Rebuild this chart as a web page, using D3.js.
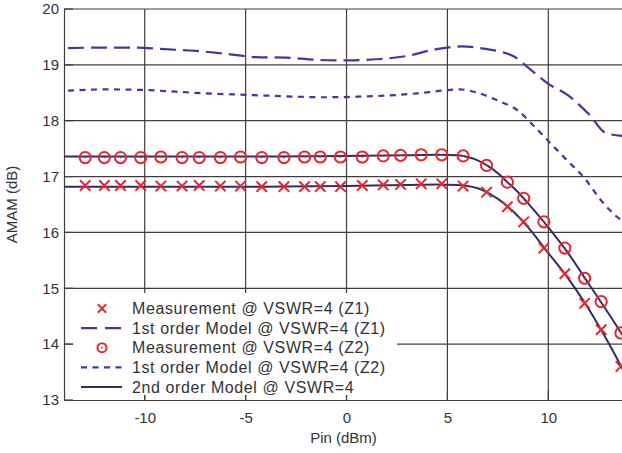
<!DOCTYPE html>
<html>
<head>
<meta charset="utf-8">
<script src="https://cdn.jsdelivr.net/npm/d3@7"></script>
<style>
  body { margin: 0; background: #fff; }
  svg { display: block; font-family: "Liberation Sans", Arial, sans-serif; }
</style>
</head>
<body>
<svg id="chart" width="622" height="453"></svg>
<script>
// measured Pin points (dBm)
const pinMeas = [-12.95, -12.0, -11.2, -10.2, -9.2, -8.15, -7.3, -6.25, -5.25, -4.2,
  -3.1, -2.08, -1.3, -0.3, 0.78, 1.82, 2.68, 3.7, 4.72, 5.78,
  6.94, 7.97, 8.78, 9.78, 10.82, 11.8, 12.62, 13.6];
const measZ1 = [16.84, 16.84, 16.84, 16.84, 16.83, 16.83, 16.84, 16.83, 16.83, 16.82,
  16.82, 16.82, 16.82, 16.82, 16.84, 16.85, 16.86, 16.87, 16.87, 16.83,
  16.72, 16.46, 16.19, 15.72, 15.26, 14.73, 14.26, 13.60];
const measZ2 = [17.34, 17.34, 17.34, 17.34, 17.35, 17.34, 17.34, 17.34, 17.35, 17.34,
  17.34, 17.35, 17.35, 17.35, 17.35, 17.37, 17.38, 17.39, 17.39, 17.37,
  17.20, 16.90, 16.61, 16.19, 15.72, 15.18, 14.76, 14.20];

// 1st order models
const pin1Z1 = [-13.8, -12, -10.5, -9, -7.5, -6, -4.5, -3, -1.5, 0, 1.5, 3, 4.3, 5.7, 6.8, 8.3, 9, 10, 11, 12, 12.9, 14];
const first1Z1 = [19.30, 19.31, 19.31, 19.28, 19.25, 19.20, 19.14, 19.13, 19.09, 19.08, 19.10, 19.16, 19.27, 19.33, 19.29, 19.15, 18.95, 18.66, 18.45, 18.12, 17.77, 17.72];
const pin1Z2 = [-13.8, -12, -10, -8.5, -7, -5.5, -4, -2.5, -1, 0.5, 2, 3.5, 4.8, 5.6, 6.5, 7.5, 8.5, 9.3, 10.1, 10.9, 11.8, 12.6, 13.4, 14];
const first1Z2 = [18.54, 18.56, 18.55, 18.52, 18.49, 18.47, 18.45, 18.43, 18.42, 18.43, 18.45, 18.49, 18.54, 18.56, 18.50, 18.36, 18.18, 17.90, 17.60, 17.30, 16.97, 16.58, 16.28, 16.12];

// 2nd order models
const pin2 = [-14, -8, -4, 0, 3, 4.5, 5.5, 6, 6.5, 7, 7.5, 8, 8.5, 9, 10, 11, 12, 13, 14];
const second2Z1 = [16.82, 16.82, 16.82, 16.83, 16.85, 16.86, 16.85, 16.83, 16.79, 16.71, 16.60, 16.46, 16.29, 16.09, 15.63, 15.17, 14.63, 14.01, 13.33];
const second2Z2 = [17.36, 17.36, 17.36, 17.37, 17.38, 17.39, 17.38, 17.35, 17.29, 17.19, 17.06, 16.89, 16.72, 16.52, 16.09, 15.62, 15.08, 14.54, 13.98];

const xTicks = [-10, -5, 0, 5, 10];
const yTicks = [13, 14, 15, 16, 17, 18, 19, 20];
const legendLabels = [
  "Measurement @ VSWR=4 (Z1)",
  "1st order Model @ VSWR=4 (Z1)",
  "Measurement @ VSWR=4 (Z2)",
  "1st order Model @ VSWR=4 (Z2)",
  "2nd order Model @ VSWR=4"
];

const red = "#e8262e", blue = "#3a3aa2", navy = "#2f2f62", grid = "#3f3f3f", ink = "#333";

const svg = d3.select("#chart");
const padL = 64, padT = 9, padB = 400;
const x = d3.scaleLinear().domain([-14, 14]).range([padL, padL + 28 * 20.18]);
const y = d3.scaleLinear().domain([13, 20]).range([padB, padT]);

svg.append("defs").append("clipPath").attr("id", "clip")
  .append("rect").attr("x", padL).attr("y", padT).attr("width", 622 - padL).attr("height", padB - padT);

// gridlines
const g = svg.append("g");
g.selectAll(".vg").data(xTicks).enter().append("line")
  .attr("x1", d => x(d)).attr("x2", d => x(d)).attr("y1", padT).attr("y2", padB)
  .attr("stroke", grid).attr("stroke-width", 1.2);
g.selectAll(".hg").data(yTicks.slice(1, -1)).enter().append("line")
  .attr("x1", padL).attr("x2", 622).attr("y1", d => y(d)).attr("y2", d => y(d))
  .attr("stroke", grid).attr("stroke-width", 1.2);

// axes
svg.append("g").attr("transform", `translate(0,${padB})`)
  .call(d3.axisBottom(x).tickValues(xTicks).tickFormat(d => String(d)).tickSize(0).tickPadding(12))
  .call(a => a.select(".domain").attr("stroke", grid).attr("stroke-width", 1.2))
  .call(a => a.selectAll("text").attr("font-size", 15).attr("fill", ink).attr("font-family", "Liberation Sans, Arial"));
svg.append("g").attr("transform", `translate(${padL},0)`)
  .call(d3.axisLeft(y).tickValues(yTicks).tickFormat(d => String(d)).tickSize(0).tickPadding(5))
  .call(a => a.select(".domain").attr("stroke", grid).attr("stroke-width", 1.2))
  .call(a => a.selectAll("text").attr("font-size", 15).attr("fill", ink).attr("font-family", "Liberation Sans, Arial"));
svg.append("line").attr("x1", padL).attr("x2", 622).attr("y1", padT).attr("y2", padT)
  .attr("stroke", grid).attr("stroke-width", 1.2);

// inner ticks (partly under the legend)
svg.append("g").selectAll("line").data(xTicks).enter().append("line")
  .attr("x1", d => x(d)).attr("x2", d => x(d)).attr("y1", padB).attr("y2", padB - 9)
  .attr("stroke", grid).attr("stroke-width", 1.2);
svg.append("g").selectAll("line").data(yTicks).enter().append("line")
  .attr("x1", padL).attr("x2", padL + 9).attr("y1", d => y(d)).attr("y2", d => y(d))
  .attr("stroke", grid).attr("stroke-width", 1.2);

// axis titles
svg.append("text").attr("x", x(0) - 3).attr("y", 443).attr("text-anchor", "middle")
  .attr("font-size", 15).attr("fill", ink).text("Pin (dBm)");
svg.append("text").attr("transform", `translate(17,${(padT + padB) / 2}) rotate(-90)`)
  .attr("text-anchor", "middle").attr("font-size", 15).attr("fill", ink).text("AMAM (dB)");

// data
const plot = svg.append("g").attr("clip-path", "url(#clip)");
const line = d3.line().x(d => x(d[0])).y(d => y(d[1])).curve(d3.curveMonotoneX);

plot.append("path").datum(d3.zip(pin1Z1, first1Z1)).attr("d", line)
  .attr("fill", "none").attr("stroke", blue).attr("stroke-width", 2.2).attr("stroke-dasharray", "16,7");
plot.append("path").datum(d3.zip(pin1Z2, first1Z2)).attr("d", line)
  .attr("fill", "none").attr("stroke", blue).attr("stroke-width", 2.2).attr("stroke-dasharray", "6,5.5");
plot.append("path").datum(d3.zip(pin2, second2Z1)).attr("d", line)
  .attr("fill", "none").attr("stroke", navy).attr("stroke-width", 2);
plot.append("path").datum(d3.zip(pin2, second2Z2)).attr("d", line)
  .attr("fill", "none").attr("stroke", navy).attr("stroke-width", 2);

const cross = (sel, cx, cy, s) => sel.append("path")
  .attr("d", `M${cx - s},${cy - s}L${cx + s},${cy + s}M${cx - s},${cy + s}L${cx + s},${cy - s}`)
  .attr("stroke", red).attr("stroke-width", 2).attr("fill", "none");
const ring = (sel, cx, cy, r) => {
  sel.append("circle").attr("cx", cx).attr("cy", cy).attr("r", r)
    .attr("fill", "none").attr("stroke", red).attr("stroke-width", 2);
  sel.append("circle").attr("cx", cx).attr("cy", cy).attr("r", 0.9).attr("fill", red);
};

pinMeas.forEach((p, i) => cross(plot, x(p), y(measZ1[i]), 5.2));
pinMeas.forEach((p, i) => ring(plot, x(p), y(measZ2[i]), 5.6));

// legend
const leg = svg.append("g");
leg.append("rect").attr("x", padL + 9).attr("y", 293).attr("width", 324).attr("height", 102).attr("fill", "#fff");
const rowY = i => 308.5 + i * 19.6;
const sx0 = 81, sx1 = 122, smid = 102;
cross(leg, smid, rowY(0), 4.2);
leg.append("line").attr("x1", sx0).attr("x2", sx1).attr("y1", rowY(1)).attr("y2", rowY(1))
  .attr("stroke", blue).attr("stroke-width", 2.2).attr("stroke-dasharray", "16,8");
ring(leg, smid, rowY(2), 4.5);
leg.append("line").attr("x1", sx0).attr("x2", sx1).attr("y1", rowY(3)).attr("y2", rowY(3))
  .attr("stroke", blue).attr("stroke-width", 2.2).attr("stroke-dasharray", "6,5.5");
leg.append("line").attr("x1", sx0).attr("x2", sx1).attr("y1", rowY(4)).attr("y2", rowY(4))
  .attr("stroke", navy).attr("stroke-width", 2);
leg.selectAll("text").data(legendLabels).enter().append("text")
  .attr("x", 132).attr("y", (d, i) => rowY(i)).attr("dy", "0.36em")
  .attr("font-size", 16).attr("letter-spacing", 0.6).attr("fill", ink).text(d => d);
</script>
</body>
</html>
